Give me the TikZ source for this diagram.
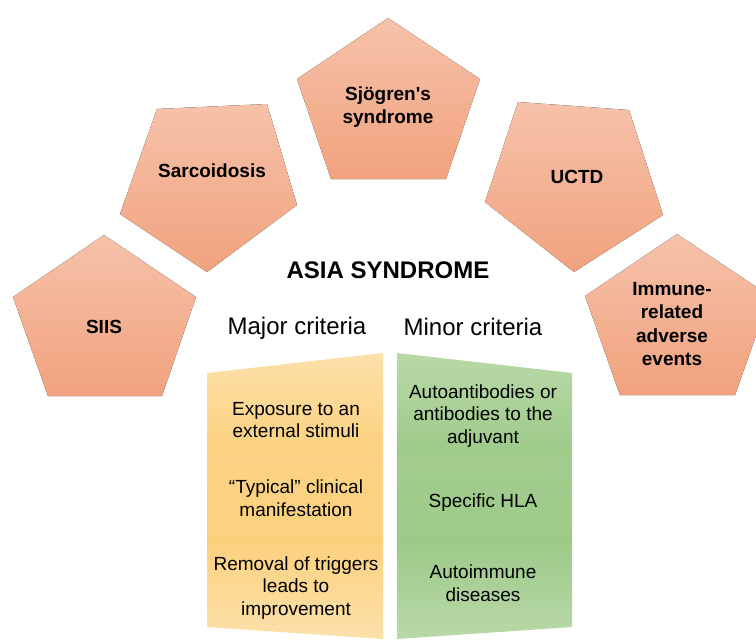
\documentclass[tikz,border=0pt]{standalone}
\usepackage{fontspec}
\setmainfont{Liberation Sans}
\usepackage{tikz}
\usetikzlibrary{positioning}

\definecolor{salmonTop}{RGB}{246,194,170}
\definecolor{salmonBot}{RGB}{241,162,126}
\definecolor{majorTop}{RGB}{252,225,172}
\definecolor{majorBot}{RGB}{252,209,126}
\definecolor{minorTop}{RGB}{186,217,168}
\definecolor{minorBot}{RGB}{157,202,137}

\begin{document}
\begin{tikzpicture}[x=0.5pt,y=-0.5pt,
  penta/.style={top color=salmonTop,bottom color=salmonBot,draw=none},
  plabel/.style={font=\fontsize{9.5}{11.5}\selectfont\bfseries,align=center,inner sep=0pt},
  crit/.style={font=\fontsize{9.5}{11.3}\selectfont,align=center,inner sep=0pt},
  head/.style={font=\fontsize{12}{14}\selectfont,inner sep=0pt}]
\clip (0,0) rectangle (756,639);
\fill[white] (0,0) rectangle (756,639);

\fill[penta] (388,18) -- (480,79) -- (446,179) -- (331,179) -- (297,79) -- cycle;
\fill[penta] (157,109) -- (267,104) -- (297,205) -- (207,272) -- (120,214) -- cycle;
\fill[penta] (518,102) -- (629,110) -- (663,215) -- (574,272) -- (485,202) -- cycle;
\fill[penta] (104,235) -- (196,297) -- (162,396) -- (48,396) -- (13,297) -- cycle;
\fill[penta] (677,234) -- (770,296) -- (735,395) -- (620,395) -- (585,296) -- cycle;

\begin{scope}
\clip (207,373) -- (383,353) -- (383,639) -- (207,627) -- cycle;
\shade[top color=majorTop,bottom color=majorBot] (200,350) rectangle (390,450);
\shade[top color=majorBot!85!majorTop,bottom color=majorBot] (200,450) rectangle (390,542);
\shade[top color=majorBot,bottom color=majorTop] (200,542) rectangle (390,640);
\end{scope}
\begin{scope}
\clip (397,353) -- (572,373) -- (572,627) -- (397,639) -- cycle;
\shade[top color=minorTop,bottom color=minorBot] (390,350) rectangle (580,455);
\shade[top color=minorBot!85!minorTop,bottom color=minorBot] (390,455) rectangle (580,543);
\shade[top color=minorBot,bottom color=minorTop] (390,543) rectangle (580,640);
\end{scope}

\node[plabel] (sjogren) at (388,107) {Sj\"ogren\textquotesingle s\\syndrome};
\node[plabel] (sarc) at (212,171) {Sarcoidosis};
\node[plabel] (uctd) at (577,177) {UCTD};
\node[plabel] (siis) at (104,327) {SIIS};
\node[plabel,font=\fontsize{9.5}{11.75}\selectfont\bfseries] (irae) at (672,324) {Immune-\\related\\adverse\\events};

\node[head,font=\fontsize{12}{14}\selectfont\bfseries] (asia) at (388,270) {ASIA SYNDROME};
\node[head] (major) at (297,328) {Major criteria};
\node[head] (minor) at (473,327) {Minor criteria};

\node[crit] (expo) at (296,420) {Exposure to an\\external stimuli};
\node[crit] (typ) at (296,498) {“Typical” clinical\\manifestation};
\node[crit] (remo) at (296,588) {Removal of triggers\\leads to\\improvement};
\node[crit] (auto) at (483,416) {Autoantibodies or\\antibodies to the\\adjuvant};
\node[crit] (hla) at (483,503) {Specific HLA};
\node[crit] (aid) at (483,583) {Autoimmune\\diseases};
\end{tikzpicture}
\end{document}
